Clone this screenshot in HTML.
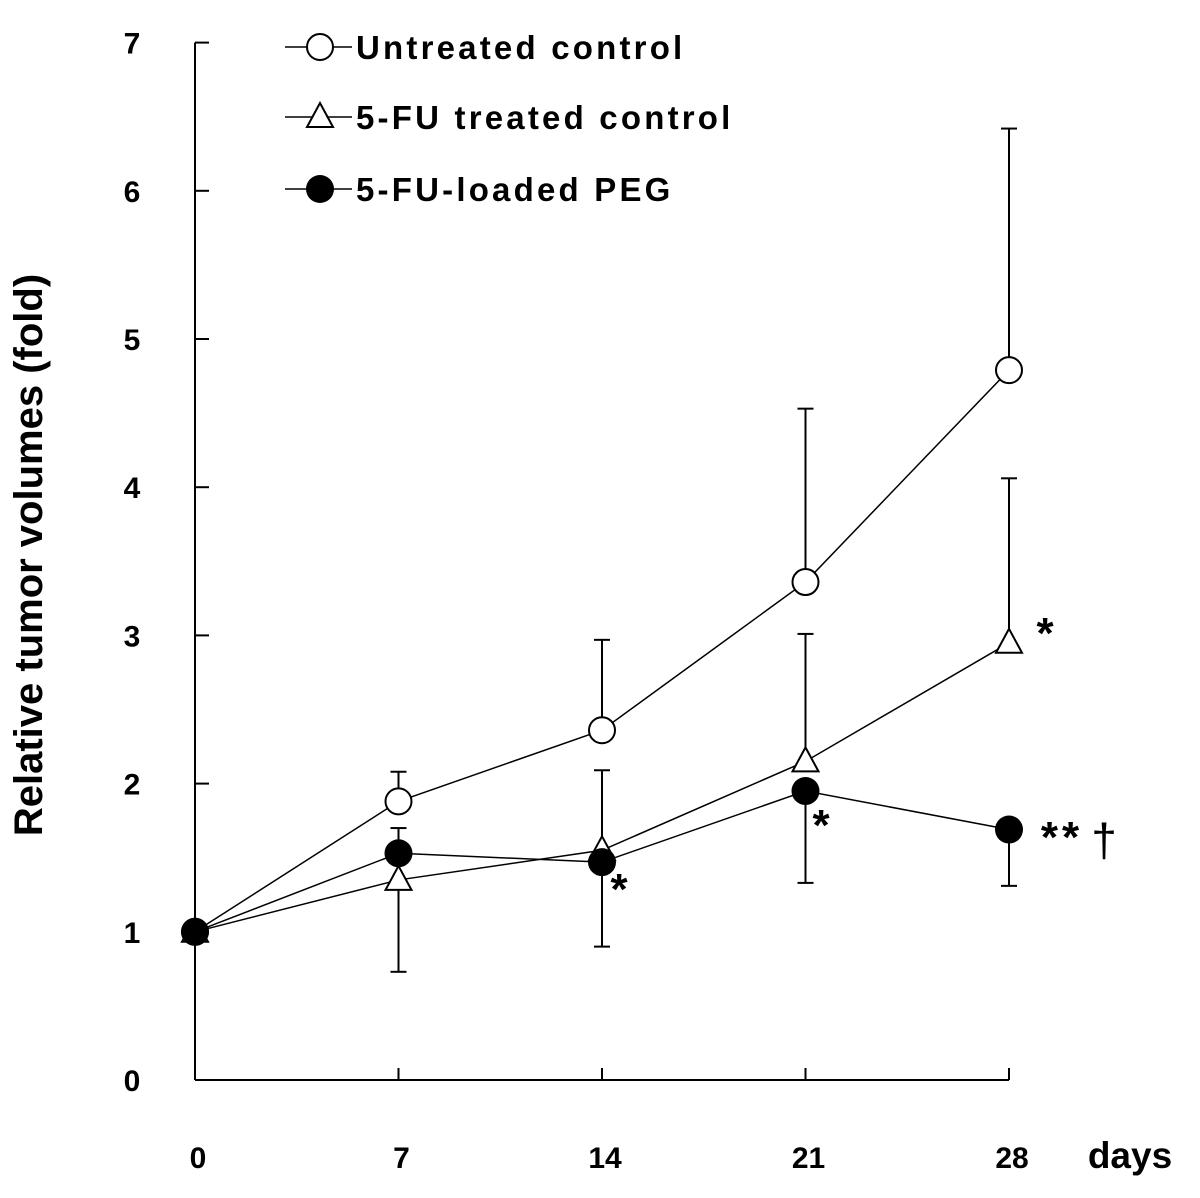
<!DOCTYPE html>
<html><head><meta charset="utf-8"><style>
body{margin:0;background:#fff}
svg{display:block;font-family:"Liberation Sans",sans-serif}
</style></head><body>
<svg id="chart" width="1200" height="1198" viewBox="0 0 1200 1198" xmlns="http://www.w3.org/2000/svg"></svg>
<script>
const days=[0,7,14,21,28];
const yTicks=[0,1,2,3,4,5,6,7];
const untreated=[1.0,1.88,2.36,3.36,4.79];
const untreatedErr=[0,0.20,0.61,1.17,1.63];
const treated=[1.0,1.35,1.55,2.15,2.95];
const treatedErr=[0,-0.62,0.54,0.86,1.11];
const peg=[1.0,1.53,1.47,1.95,1.69];
const pegErr=[0,0.17,-0.57,-0.62,-0.38];
const svg=document.getElementById('chart');
const NS='http://www.w3.org/2000/svg';
function X(d){return 195+d*(1009-195)/28;}
function Y(v){return 1080-v*148.2;}
function el(tag,attrs,parent){const e=document.createElementNS(NS,tag);for(const k in attrs)e.setAttribute(k,attrs[k]);(parent||svg).appendChild(e);return e;}
function txt(s,x,y,size,weight,anchor){const t=el('text',{x:x,y:y,'font-size':size,'font-weight':weight||'normal','text-anchor':anchor||'middle',fill:'#000'});t.textContent=s;return t;}
let a=el('line',{x1:195,y1:Y(0),x2:195,y2:Y(7),stroke:'#000','stroke-width':2});


a=el('line',{x1:195,y1:Y(0),x2:1009,y2:Y(0),stroke:'#000','stroke-width':2});


yTicks.forEach(v=>{
 el('line',{x1:195,y1:Y(v),x2:209,y2:Y(v),stroke:'#000','stroke-width':2});
 const t=txt(String(v),132,Y(v)+11,30,'bold');
 
 
});
days.forEach(d=>{
 el('line',{x1:X(d),y1:Y(0),x2:X(d),y2:Y(0)-12,stroke:'#000','stroke-width':2});
 const t=txt(String(d),X(d)+3,1168,30,'bold');
 
 
});
let t=txt('days',1130,1168,37,'bold');


t=txt('Relative tumor volumes (fold)',0,0,40,'bold');
t.setAttribute('transform','translate(42,555) rotate(-90)');


function marker(kind,x,y,g){
 if(kind==='circle-open')return el('circle',{cx:x,cy:y,r:13,fill:'#fff',stroke:'#000','stroke-width':2},g);
 if(kind==='circle-filled')return el('circle',{cx:x,cy:y,r:14,fill:'#000'},g);
 return el('polygon',{points:`${x},${y-14} ${x-13},${y+10} ${x+13},${y+10}`,fill:'#fff',stroke:'#000','stroke-width':2},g);
}
function series(vals,errs,kind,name){
 const g=el('g',{});
 
 
 vals.forEach((v,i)=>{if(errs[i]!==0){
  const b=el('line',{x1:X(days[i]),y1:Y(v),x2:X(days[i]),y2:Y(v+errs[i]),stroke:'#000','stroke-width':2},g);
  
  el('line',{x1:X(days[i])-8,y1:Y(v+errs[i]),x2:X(days[i])+8,y2:Y(v+errs[i]),stroke:'#000','stroke-width':2},g);
 }});
 el('polyline',{points:vals.map((v,i)=>X(days[i])+','+Y(v)).join(' '),fill:'none',stroke:'#000','stroke-width':1.5},g);
 vals.forEach((v,i)=>{const m=marker(kind,X(days[i]),Y(v),g);});
}
series(untreated,untreatedErr,'circle-open','series-untreated-control');
series(treated,treatedErr,'triangle','series-5fu-treated-control');
series(peg,pegErr,'circle-filled','series-5fu-loaded-peg');
[['Untreated control','circle-open',47],['5-FU treated control','triangle',117],['5-FU-loaded PEG','circle-filled',189]].forEach(r=>{
 const g=el('g',{});
 
 
 el('line',{x1:285,y1:r[2],x2:352,y2:r[2],stroke:'#000','stroke-width':1.5},g);
 marker(r[1],320,r[2],g);
 const tt=el('text',{x:356,y:r[2]+12,'font-size':33,'font-weight':'bold','letter-spacing':'3.2',fill:'#000'},g);
 tt.textContent=r[0];
});
[['*',1047,648],['*',621,904],['*',823,840],['**',1062,852]].forEach(s=>{
 const tt=txt(s[0],s[1],s[2],44,'bold');
 tt.setAttribute('letter-spacing','4');
 
 
});
t=txt('†',1104,856,46,'normal');


</script>
</body></html>
